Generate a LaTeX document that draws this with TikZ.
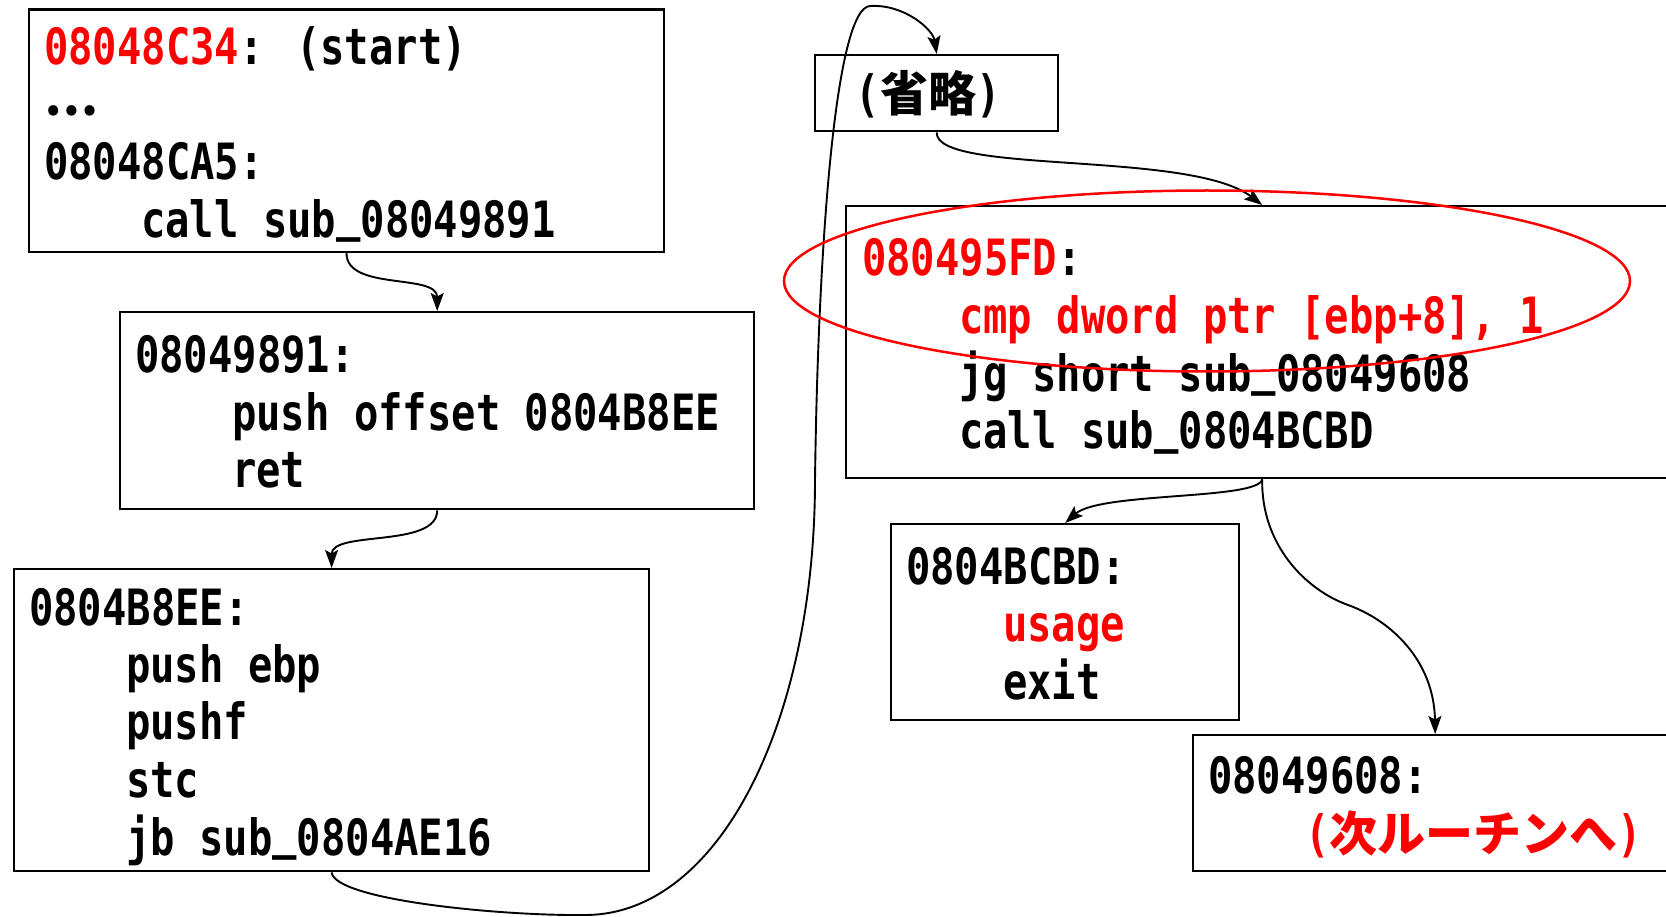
\documentclass[tikz,border=0pt]{standalone}
\usepackage{fontspec}
\usetikzlibrary{shapes.geometric,arrows.meta}
% condensed monospaced face for the listing text
\newfontfamily\codefont[FakeStretch=0.81]{DejaVu Sans Mono}
\newfontfamily\cjk{Noto Sans CJK JP}
\definecolor{hot}{RGB}{255,0,0}
\newcommand\ind{\hspace*{97pt}}
\newcommand\jp[1]{{\cjk\bfseries\fontsize{48}{57.4}\selectfont #1}}
\newcommand\hot[1]{\textcolor{hot}{#1}}
\newcommand\us{\raisebox{6.5pt}{\_}}

\tikzset{
  blk/.style={draw=black, line width=2.4pt, rectangle, inner sep=0pt, anchor=north west},
  code/.style={anchor=base west, inner sep=0pt, align=left,
               font=\codefont\bfseries\fontsize{50}{57.4}\selectfont},
  flow/.style={line width=1.9pt, -{Stealth[length=18pt,width=13pt,inset=3.5pt]}},
  mark ring/.style={draw=hot, line width=2.5pt, ellipse, inner sep=0pt},
}

\begin{document}
\begin{tikzpicture}[x=1pt,y=-1pt]
\useasboundingbox (0,0) rectangle (1666,917);
\clip (0,0) rectangle (1666,917);

% ---- basic blocks ----
\node[blk, minimum width=635.4pt, minimum height=242.3pt] (b1) at (27.6,8.5) {};
\node[blk, minimum width=634pt,   minimum height=197pt]   (b2) at (119,311) {};
\node[blk, minimum width=635.3pt, minimum height=302pt]   (b3) at (12.75,568) {};
\node[blk, minimum width=243pt,   minimum height=76pt]    (b4) at (814,54) {};
\node[blk, minimum width=832pt,   minimum height=272pt]   (b5) at (845,205) {};
\node[blk, minimum width=348pt,   minimum height=196pt]   (b6) at (890,523) {};
\node[blk, minimum width=484pt,   minimum height=136pt]   (b7) at (1192,734) {};

% ---- listings ----
\node[code] (t1) at (44,65) {\begin{tabular}[t]{@{}l@{}}
\hot{08048C34}: (start)\\
\raisebox{7pt}{\jp{…}}\\
08048CA5:\\
\ind call sub\us 08049891
\end{tabular}};

\node[code] (t2) at (135,372.7) {\begin{tabular}[t]{@{}l@{}}
08049891:\\
\ind push offset 0804B8EE\\
\ind ret
\end{tabular}};

\node[code] (t3) at (29,625) {\begin{tabular}[t]{@{}l@{}}
0804B8EE:\\
\ind push ebp\\
\ind pushf\\
\ind stc\\
\ind jb sub\us 0804AE16
\end{tabular}};

\node[code] (t4) at (855.5,112) {(\jp{省略})};

\node[code] (t5) at (862,276) {\begin{tabular}[t]{@{}l@{}}
\hot{080495FD}:\\
\ind\hot{cmp dword ptr [ebp+8], 1}\\
\ind jg short sub\us 08049608\\
\ind call sub\us 0804BCBD
\end{tabular}};

\node[code] (t6) at (906,584) {\begin{tabular}[t]{@{}l@{}}
0804BCBD:\\
\ind\hot{usage}\\
\ind exit
\end{tabular}};

\node[code] (t7) at (1208,793.3) {\begin{tabular}[t]{@{}l@{}}
08049608:\\
\ind\hot{(\jp{次ルーチンへ})}
\end{tabular}};

% ---- control flow ----
\draw[flow] (b1.south) .. controls +(0,38) and +(0,-38) .. (b2.north);
\draw[flow] (b2.south) .. controls +(0,38) and +(0,-38) .. (b3.north);
\draw[flow] (b3.south) .. controls (335,900) and (500,916) .. (585,915)
            .. controls (720,915) and (815,720) .. (815,480)
            .. controls (818,250) and (835,8) .. (870,6)
            .. controls (905,4) and (933,30) .. (b4.north);
\draw[flow] (b4.south) .. controls (935,175) and (1190,150) .. (b5.north);
\draw[flow] (b5.south) .. controls (1258,500) and (1100,492) .. (b6.north);
\draw[flow] (b5.south) .. controls (1261,545) and (1306,590) .. (1348,605)
            .. controls (1390,620) and (1434,660) .. (b7.north);

% ---- highlighted comparison ----
\node[mark ring, minimum width=846pt, minimum height=181pt] (hl) at (1207,281) {};
\end{tikzpicture}
\end{document}
